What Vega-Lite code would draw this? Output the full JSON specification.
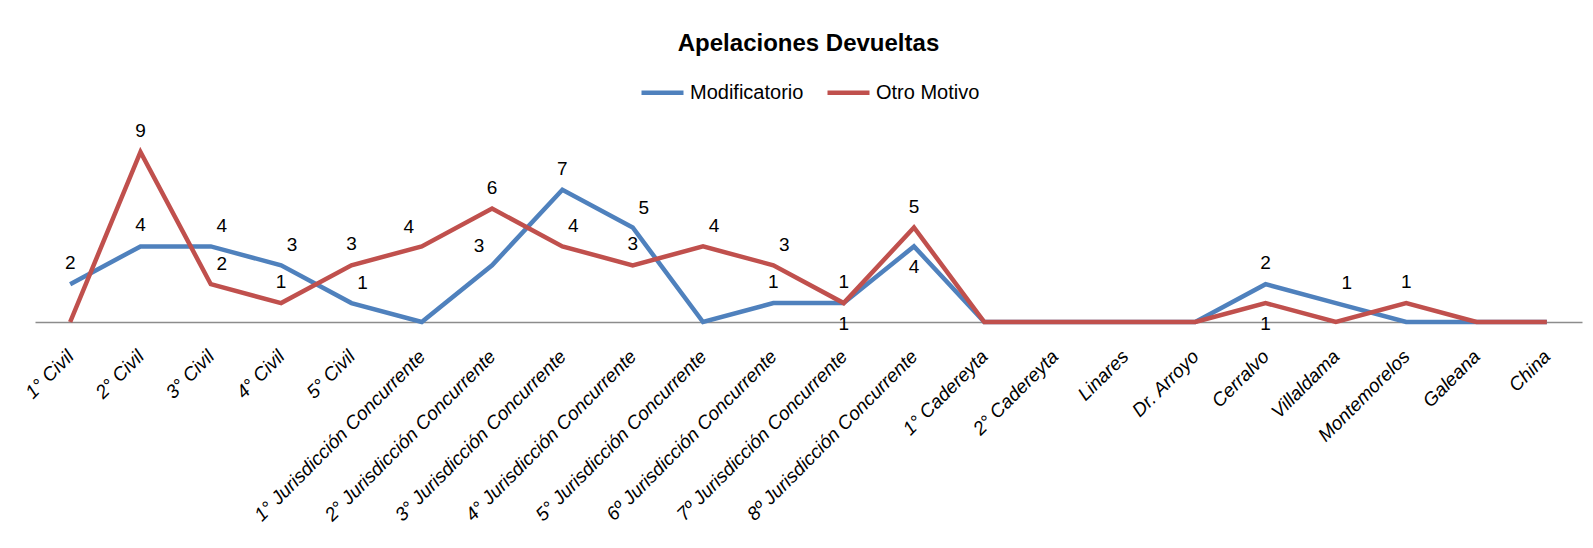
{
  "$schema": "https://vega.github.io/schema/vega-lite/v6.json",
  "autosize": "none",
  "width": 1547,
  "height": 189,
  "padding": {"left": 35, "top": 133, "right": 11, "bottom": 226},
  "background": "white",
  "config": {"view": {"stroke": null}, "font": "Liberation Sans"},
  "title": {"text": "Apelaciones Devueltas", "fontSize": 24, "fontWeight": "bold", "font": "Liberation Sans", "color": "#000000", "anchor": "middle", "baseline": "middle", "offset": 1},
  "data": {"values": [
    {"cat": "1° Civil", "serie": "Modificatorio", "v": 2},
    {"cat": "2° Civil", "serie": "Modificatorio", "v": 4},
    {"cat": "3° Civil", "serie": "Modificatorio", "v": 4},
    {"cat": "4° Civil", "serie": "Modificatorio", "v": 3},
    {"cat": "5° Civil", "serie": "Modificatorio", "v": 1},
    {"cat": "1° Jurisdicción Concurrente", "serie": "Modificatorio", "v": 0},
    {"cat": "2° Jurisdicción Concurrente", "serie": "Modificatorio", "v": 3},
    {"cat": "3° Jurisdicción Concurrente", "serie": "Modificatorio", "v": 7},
    {"cat": "4° Jurisdicción Concurrente", "serie": "Modificatorio", "v": 5},
    {"cat": "5° Jurisdicción Concurrente", "serie": "Modificatorio", "v": 0},
    {"cat": "6º Jurisdicción Concurrente", "serie": "Modificatorio", "v": 1},
    {"cat": "7º Jurisdicción Concurrente", "serie": "Modificatorio", "v": 1},
    {"cat": "8º Jurisdicción Concurrente", "serie": "Modificatorio", "v": 4},
    {"cat": "1° Cadereyta", "serie": "Modificatorio", "v": 0},
    {"cat": "2° Cadereyta", "serie": "Modificatorio", "v": 0},
    {"cat": "Linares", "serie": "Modificatorio", "v": 0},
    {"cat": "Dr. Arroyo", "serie": "Modificatorio", "v": 0},
    {"cat": "Cerralvo", "serie": "Modificatorio", "v": 2},
    {"cat": "Villaldama", "serie": "Modificatorio", "v": 1},
    {"cat": "Montemorelos", "serie": "Modificatorio", "v": 0},
    {"cat": "Galeana", "serie": "Modificatorio", "v": 0},
    {"cat": "China", "serie": "Modificatorio", "v": 0},
    {"cat": "1° Civil", "serie": "Otro Motivo", "v": 0},
    {"cat": "2° Civil", "serie": "Otro Motivo", "v": 9},
    {"cat": "3° Civil", "serie": "Otro Motivo", "v": 2},
    {"cat": "4° Civil", "serie": "Otro Motivo", "v": 1},
    {"cat": "5° Civil", "serie": "Otro Motivo", "v": 3},
    {"cat": "1° Jurisdicción Concurrente", "serie": "Otro Motivo", "v": 4},
    {"cat": "2° Jurisdicción Concurrente", "serie": "Otro Motivo", "v": 6},
    {"cat": "3° Jurisdicción Concurrente", "serie": "Otro Motivo", "v": 4},
    {"cat": "4° Jurisdicción Concurrente", "serie": "Otro Motivo", "v": 3},
    {"cat": "5° Jurisdicción Concurrente", "serie": "Otro Motivo", "v": 4},
    {"cat": "6º Jurisdicción Concurrente", "serie": "Otro Motivo", "v": 3},
    {"cat": "7º Jurisdicción Concurrente", "serie": "Otro Motivo", "v": 1},
    {"cat": "8º Jurisdicción Concurrente", "serie": "Otro Motivo", "v": 5},
    {"cat": "1° Cadereyta", "serie": "Otro Motivo", "v": 0},
    {"cat": "2° Cadereyta", "serie": "Otro Motivo", "v": 0},
    {"cat": "Linares", "serie": "Otro Motivo", "v": 0},
    {"cat": "Dr. Arroyo", "serie": "Otro Motivo", "v": 0},
    {"cat": "Cerralvo", "serie": "Otro Motivo", "v": 1},
    {"cat": "Villaldama", "serie": "Otro Motivo", "v": 0},
    {"cat": "Montemorelos", "serie": "Otro Motivo", "v": 1},
    {"cat": "Galeana", "serie": "Otro Motivo", "v": 0},
    {"cat": "China", "serie": "Otro Motivo", "v": 0}
  ]},
  "encoding": {
    "x": {
      "field": "cat", "type": "nominal",
      "scale": {"type": "point", "padding": 0.5, "domain": ["1° Civil", "2° Civil", "3° Civil", "4° Civil", "5° Civil", "1° Jurisdicción Concurrente", "2° Jurisdicción Concurrente", "3° Jurisdicción Concurrente", "4° Jurisdicción Concurrente", "5° Jurisdicción Concurrente", "6º Jurisdicción Concurrente", "7º Jurisdicción Concurrente", "8º Jurisdicción Concurrente", "1° Cadereyta", "2° Cadereyta", "Linares", "Dr. Arroyo", "Cerralvo", "Villaldama", "Montemorelos", "Galeana", "China"]},
      "axis": {"title": null, "labelAngle": -45, "labelAlign": "right", "labelBaseline": "middle", "labelFontSize": 19, "labelFont": "Liberation Sans", "labelFontStyle": "italic", "labelColor": "#000000", "ticks": false, "domainColor": "#8c8c8c", "domainWidth": 1.5, "labelPadding": 31, "labelLimit": 0, "labelOverlap": false, "grid": false}
    },
    "y": {"field": "v", "type": "quantitative", "scale": {"domain": [0, 10]}, "axis": null}
  },
  "layer": [
    {
      "mark": {"type": "line", "strokeWidth": 4.5},
      "encoding": {
        "color": {
          "field": "serie", "type": "nominal",
          "scale": {"domain": ["Modificatorio", "Otro Motivo"], "range": ["#4F81BD", "#C0504D"]},
          "legend": {"orient": "none", "legendX": 604, "legendY": -64, "direction": "horizontal", "title": null, "symbolType": "stroke", "symbolSize": 1764, "symbolStrokeWidth": 4.5, "labelFontSize": 20, "labelFont": "Liberation Sans", "labelOffset": 4, "columnPadding": 14, "labelColor": "#000000"}
        }
      }
    },
    {
      "transform": [
        {"filter": "datum.v > 0"},
        {"filter": {"not": {"or": [
          {"and": [{"field": "serie", "equal": "Modificatorio"}, {"field": "cat", "oneOf": ["7º Jurisdicción Concurrente", "8º Jurisdicción Concurrente", "3° Civil", "4° Civil", "5° Civil", "4° Jurisdicción Concurrente", "Villaldama", "2° Jurisdicción Concurrente"]}]},
          {"and": [{"field": "serie", "equal": "Otro Motivo"}, {"field": "cat", "oneOf": ["Cerralvo", "3° Civil", "3° Jurisdicción Concurrente", "5° Jurisdicción Concurrente", "6º Jurisdicción Concurrente", "1° Jurisdicción Concurrente"]}]}
        ]}}}
      ],
      "mark": {"type": "text", "dy": -21, "fontSize": 19, "font": "Liberation Sans", "color": "#000000", "baseline": "middle", "align": "center"},
      "encoding": {"text": {"field": "v", "type": "quantitative"}}
    },
    {
      "transform": [
        {"filter": {"or": [
          {"and": [{"field": "serie", "equal": "Modificatorio"}, {"field": "cat", "oneOf": ["3° Civil", "4° Civil", "5° Civil", "4° Jurisdicción Concurrente", "Villaldama"]}]},
          {"and": [{"field": "serie", "equal": "Otro Motivo"}, {"field": "cat", "oneOf": ["3° Civil", "3° Jurisdicción Concurrente", "5° Jurisdicción Concurrente", "6º Jurisdicción Concurrente"]}]}
        ]}}
      ],
      "mark": {"type": "text", "dx": 11, "dy": -20, "fontSize": 19, "font": "Liberation Sans", "color": "#000000", "baseline": "middle", "align": "center"},
      "encoding": {"text": {"field": "v", "type": "quantitative"}}
    },
    {
      "transform": [
        {"filter": {"or": [
          {"and": [{"field": "serie", "equal": "Modificatorio"}, {"field": "cat", "oneOf": ["2° Jurisdicción Concurrente"]}]},
          {"and": [{"field": "serie", "equal": "Otro Motivo"}, {"field": "cat", "oneOf": ["1° Jurisdicción Concurrente"]}]}
        ]}}
      ],
      "mark": {"type": "text", "dx": -13, "dy": -19, "fontSize": 19, "font": "Liberation Sans", "color": "#000000", "baseline": "middle", "align": "center"},
      "encoding": {"text": {"field": "v", "type": "quantitative"}}
    },
    {
      "transform": [
        {"filter": {"or": [
          {"and": [{"field": "serie", "equal": "Modificatorio"}, {"field": "cat", "oneOf": ["7º Jurisdicción Concurrente", "8º Jurisdicción Concurrente"]}]},
          {"and": [{"field": "serie", "equal": "Otro Motivo"}, {"field": "cat", "oneOf": ["Cerralvo"]}]}
        ]}}
      ],
      "mark": {"type": "text", "dy": 21, "fontSize": 19, "font": "Liberation Sans", "color": "#000000", "baseline": "middle", "align": "center"},
      "encoding": {"text": {"field": "v", "type": "quantitative"}}
    }
  ]
}
